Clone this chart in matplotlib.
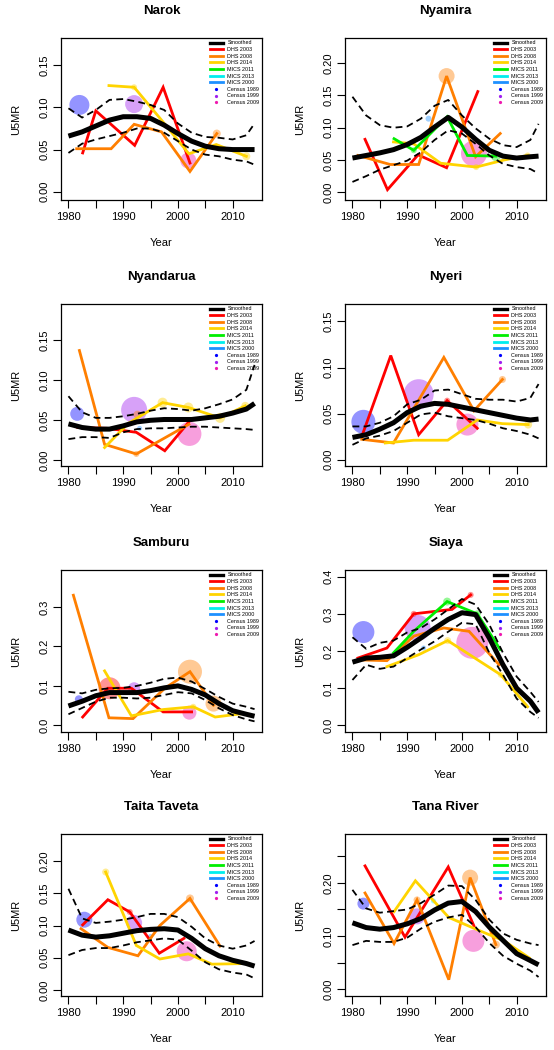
import matplotlib
matplotlib.use('Agg')
import matplotlib.pyplot as plt
from matplotlib.lines import Line2D

plt.rcParams['font.family'] = ['Liberation Sans', 'DejaVu Sans']

##Years at which the smoothed estimate and its bounds were read
years = [1980, 1982.5, 1985, 1987.5, 1990, 1992.5, 1995, 1997.5, 2000, 2002.5,
         2005, 2007.5, 2010, 2012.5, 2014]

##Survey colours
colors = {'DHS 2003': '#FF0000', 'DHS 2008': '#FF7F00', 'DHS 2014': '#FFD400',
          'MICS 2011': '#00EE00', 'MICS 2013': '#00EEEE', 'MICS 2000': '#1E90FF',
          'Census 1989': '#0000FF', 'Census 1999': '#A020F0', 'Census 2009': '#EE1AAF'}

###############################################
# Narok
###############################################
narok_smooth = [0.066, 0.071, 0.078, 0.085, 0.089, 0.089, 0.087, 0.079, 0.069, 0.060, 0.054, 0.051, 0.050, 0.050, 0.050]
narok_upper = [0.099, 0.088, 0.097, 0.109, 0.110, 0.107, 0.103, 0.097, 0.081, 0.070, 0.065, 0.064, 0.062, 0.067, 0.081]
narok_lower = [0.046, 0.057, 0.062, 0.066, 0.070, 0.075, 0.075, 0.070, 0.060, 0.050, 0.044, 0.042, 0.038, 0.036, 0.032]
narok_series = {
    'DHS 2003': ([1982.6, 1985.0, 1992.1, 1997.3, 2002.2], [0.046, 0.096, 0.055, 0.124, 0.034]),
    'DHS 2008': ([1981.5, 1987.8, 1992.0, 1997.0, 2002.2, 2007.1], [0.051, 0.051, 0.080, 0.071, 0.024, 0.069]),
    'DHS 2014': ([1987.4, 1992.0, 1997.0, 2002.0, 2007.0, 2012.5], [0.126, 0.124, 0.085, 0.045, 0.056, 0.042]),
}
# (source, year, value, bubble radius)
narok_points = [('Census 1989', 1982.0, 0.103, 10), ('Census 1999', 1992.0, 0.104, 9),
                ('Census 2009', 2001.9, 0.037, 8), ('DHS 2008', 2007.1, 0.069, 4),
                ('DHS 2014', 2012.5, 0.042, 4), ('DHS 2014', 1992.0, 0.124, 3)]

###############################################
# Nyamira
###############################################
nyamira_smooth = [0.053, 0.057, 0.061, 0.066, 0.074, 0.085, 0.101, 0.116, 0.101, 0.082, 0.065, 0.056, 0.053, 0.055, 0.056]
nyamira_upper = [0.148, 0.119, 0.104, 0.100, 0.102, 0.114, 0.134, 0.143, 0.119, 0.099, 0.083, 0.073, 0.070, 0.081, 0.106]
nyamira_lower = [0.016, 0.025, 0.035, 0.042, 0.049, 0.062, 0.081, 0.096, 0.091, 0.075, 0.057, 0.044, 0.039, 0.036, 0.029]
nyamira_series = {
    'DHS 2003': ([1982.3, 1986.4, 1992.0, 1997.2, 2002.9], [0.082, 0.004, 0.058, 0.038, 0.156]),
    'DHS 2008': ([1981.0, 1986.9, 1992.1, 1997.2, 2002.5, 2007.0], [0.057, 0.043, 0.043, 0.180, 0.055, 0.091]),
    'DHS 2014': ([1987.5, 1991.2, 1996.1, 2002.6, 2007.7, 2012.0], [0.078, 0.075, 0.045, 0.039, 0.050, 0.057]),
    'MICS 2011': ([1987.6, 1991.2, 1997.3, 2001.0, 2006.2], [0.083, 0.065, 0.117, 0.057, 0.056]),
}
nyamira_points = [('Census 2009', 2002.2, 0.060, 13), ('MICS 2000', 1993.9, 0.114, 3),
                  ('DHS 2008', 1997.2, 0.180, 8), ('MICS 2011', 2006.2, 0.056, 5),
                  ('MICS 2011', 1991.2, 0.065, 3), ('DHS 2014', 2012.0, 0.057, 3),
                  ('DHS 2014', 2002.6, 0.039, 3)]

###############################################
# Nyandarua
###############################################
nyandarua_smooth = [0.0455, 0.041, 0.039, 0.039, 0.043, 0.048, 0.050, 0.051, 0.051, 0.051, 0.053, 0.055, 0.059, 0.064, 0.071]
nyandarua_upper = [0.080, 0.060, 0.053, 0.053, 0.055, 0.058, 0.062, 0.065, 0.064, 0.062, 0.065, 0.070, 0.076, 0.088, 0.119]
nyandarua_lower = [0.0265, 0.029, 0.029, 0.028, 0.035, 0.039, 0.040, 0.040, 0.041, 0.042, 0.042, 0.041, 0.040, 0.039, 0.038]
nyandarua_series = {
    'DHS 2003': ([1981.7, 1987.0, 1992.4, 1997.6, 2002.0], [0.041, 0.040, 0.035, 0.012, 0.048]),
    'DHS 2008': ([1982.0, 1986.6, 1992.4, 2002.0], [0.137, 0.020, 0.008, 0.045]),
    'DHS 2014': ([1986.6, 1990.9, 1997.2, 2001.9, 2007.7, 2012.3], [0.016, 0.046, 0.072, 0.066, 0.053, 0.068]),
}
nyandarua_points = [('Census 1989', 1981.6, 0.058, 7), ('Census 1999', 1992.0, 0.063, 13),
                    ('Census 2009', 2002.1, 0.033, 12), ('MICS 2000', 1993.0, 0.040, 2.5),
                    ('DHS 2014', 1997.2, 0.072, 5), ('DHS 2014', 2001.9, 0.066, 5),
                    ('DHS 2014', 2007.7, 0.053, 5), ('DHS 2014', 2012.3, 0.068, 4),
                    ('DHS 2008', 1992.4, 0.008, 3), ('DHS 2008', 1992.6, 0.057, 4)]

###############################################
# Nyeri
###############################################
nyeri_smooth = [0.024, 0.027, 0.033, 0.040, 0.051, 0.058, 0.061, 0.060, 0.057, 0.054, 0.051, 0.048, 0.045, 0.043, 0.044]
nyeri_upper = [0.036, 0.036, 0.040, 0.047, 0.060, 0.065, 0.075, 0.076, 0.071, 0.066, 0.065, 0.065, 0.063, 0.067, 0.082]
nyeri_lower = [0.016, 0.023, 0.026, 0.031, 0.040, 0.049, 0.051, 0.047, 0.045, 0.043, 0.039, 0.034, 0.031, 0.027, 0.023]
nyeri_series = {
    'DHS 2003': ([1981.7, 1987.0, 1992.1, 1997.3, 2002.8], [0.025, 0.113, 0.027, 0.064, 0.034]),
    'DHS 2008': ([1981.7, 1987.5, 1996.7, 2002.2, 2007.4], [0.022, 0.018, 0.111, 0.053, 0.087]),
    'DHS 2014': ([1986.0, 1991.2, 1997.4, 2002.8, 2007.4, 2012.1], [0.018, 0.021, 0.021, 0.043, 0.039, 0.038]),
}
nyeri_points = [('Census 1989', 1982.0, 0.041, 12), ('Census 1999', 1992.1, 0.071, 15),
                ('Census 2009', 2001.0, 0.038, 11), ('DHS 2014', 2012.1, 0.038, 4),
                ('DHS 2008', 2007.4, 0.087, 3.5), ('DHS 2003', 1997.3, 0.064, 3)]

###############################################
# Samburu
###############################################
samburu_smooth = [0.049, 0.061, 0.075, 0.083, 0.083, 0.083, 0.088, 0.095, 0.100, 0.091, 0.077, 0.055, 0.037, 0.028, 0.023]
samburu_upper = [0.085, 0.081, 0.090, 0.094, 0.095, 0.100, 0.108, 0.118, 0.121, 0.111, 0.092, 0.072, 0.055, 0.047, 0.041]
samburu_lower = [0.028, 0.044, 0.060, 0.070, 0.070, 0.068, 0.070, 0.077, 0.084, 0.081, 0.064, 0.043, 0.026, 0.015, 0.010]
samburu_series = {
    'DHS 2003': ([1982.6, 1987.2, 1991.5, 1997.3, 2002.5], [0.021, 0.094, 0.094, 0.034, 0.034]),
    'DHS 2008': ([1980.9, 1987.4, 1991.8, 1997.6, 2002.2, 2006.5], [0.330, 0.019, 0.017, 0.094, 0.136, 0.051]),
    'DHS 2014': ([1986.6, 1991.5, 1997.3, 2002.8, 2006.8, 2012.0], [0.138, 0.024, 0.040, 0.047, 0.021, 0.030]),
}
samburu_points = [('Census 1989', 1981.9, 0.066, 4), ('Census 1999', 1992.0, 0.094, 6),
                  ('Census 2009', 2002.1, 0.032, 7), ('DHS 2003', 1987.5, 0.094, 11),
                  ('DHS 2008', 2002.2, 0.136, 12), ('DHS 2008', 2006.5, 0.055, 8),
                  ('DHS 2014', 2002.8, 0.047, 3)]

###############################################
# Siaya
###############################################
siaya_smooth = [0.170, 0.181, 0.183, 0.187, 0.210, 0.235, 0.261, 0.285, 0.303, 0.298, 0.235, 0.163, 0.100, 0.065, 0.034]
siaya_upper = [0.237, 0.206, 0.222, 0.228, 0.250, 0.262, 0.285, 0.312, 0.340, 0.325, 0.271, 0.195, 0.131, 0.090, 0.063]
siaya_lower = [0.122, 0.163, 0.152, 0.158, 0.181, 0.204, 0.226, 0.252, 0.276, 0.272, 0.195, 0.136, 0.072, 0.036, 0.020]
siaya_series = {
    'DHS 2003': ([1981.0, 1986.3, 1991.2, 1998.2, 2001.6], [0.181, 0.208, 0.300, 0.312, 0.351]),
    'DHS 2008': ([1981.3, 1986.3, 1991.2, 1996.7, 2001.3, 2006.8], [0.176, 0.174, 0.240, 0.262, 0.253, 0.163]),
    'DHS 2014': ([1986.3, 1992.1, 1997.4, 2007.1, 2012.0], [0.158, 0.190, 0.228, 0.136, 0.050]),
    'MICS 2011': ([1987.5, 1991.2, 1997.3, 2002.8, 2007.0], [0.195, 0.253, 0.333, 0.300, 0.204]),
}
siaya_points = [('Census 1989', 1982.0, 0.251, 11), ('Census 1999', 1991.9, 0.262, 13),
                ('Census 2009', 2001.9, 0.222, 16), ('MICS 2000', 1993.0, 0.208, 2.5),
                ('MICS 2011', 1997.3, 0.333, 4), ('MICS 2011', 2002.8, 0.300, 3.5),
                ('DHS 2014', 1997.4, 0.228, 3.5), ('DHS 2003', 2001.6, 0.351, 3),
                ('DHS 2003', 1991.2, 0.300, 3), ('DHS 2014', 2007.1, 0.136, 3)]

###############################################
# Taita Taveta
###############################################
taita_smooth = [0.093, 0.085, 0.082, 0.084, 0.088, 0.092, 0.094, 0.095, 0.093, 0.080, 0.064, 0.053, 0.046, 0.041, 0.037]
taita_upper = [0.157, 0.111, 0.104, 0.106, 0.109, 0.113, 0.118, 0.118, 0.113, 0.098, 0.080, 0.069, 0.064, 0.069, 0.076]
taita_lower = [0.054, 0.062, 0.065, 0.065, 0.069, 0.074, 0.077, 0.080, 0.078, 0.061, 0.043, 0.032, 0.027, 0.024, 0.018]
taita_series = {
    'DHS 2003': ([1982.6, 1987.2, 1991.2, 1996.6, 2001.1], [0.101, 0.140, 0.121, 0.057, 0.080]),
    'DHS 2008': ([1982.3, 1987.2, 1992.7, 1996.7, 2002.2, 2007.7], [0.095, 0.066, 0.053, 0.100, 0.142, 0.068]),
    'DHS 2014': ([1986.8, 1992.4, 1996.7, 2001.9, 2006.2, 2012.5], [0.183, 0.069, 0.048, 0.056, 0.040, 0.041]),
}
taita_points = [('Census 1989', 1982.9, 0.109, 8), ('Census 1999', 1992.0, 0.104, 8),
                ('Census 2009', 2001.6, 0.060, 10), ('MICS 2000', 1995.0, 0.083, 2.5),
                ('DHS 2008', 2002.2, 0.142, 4), ('DHS 2014', 1986.8, 0.183, 3.5),
                ('DHS 2003', 1991.2, 0.121, 3)]

###############################################
# Tana River
###############################################
tana_smooth = [0.125, 0.116, 0.113, 0.116, 0.123, 0.133, 0.149, 0.162, 0.165, 0.146, 0.117, 0.092, 0.067, 0.054, 0.046]
tana_upper = [0.187, 0.152, 0.144, 0.147, 0.150, 0.162, 0.178, 0.195, 0.194, 0.168, 0.131, 0.105, 0.093, 0.086, 0.083]
tana_lower = [0.083, 0.091, 0.089, 0.089, 0.097, 0.114, 0.127, 0.135, 0.140, 0.117, 0.087, 0.063, 0.048, 0.035, 0.023]
tana_series = {
    'DHS 2003': ([1982.3, 1989.6, 1997.5, 2002.2], [0.232, 0.098, 0.230, 0.119]),
    'DHS 2008': ([1982.3, 1987.6, 1991.8, 1997.6, 2001.5, 2006.2], [0.181, 0.086, 0.168, 0.018, 0.210, 0.084]),
    'DHS 2014': ([1987.6, 1991.5, 1997.6, 2002.8, 2007.7, 2012.3], [0.146, 0.204, 0.135, 0.112, 0.091, 0.059]),
}
tana_points = [('Census 1989', 1982.0, 0.161, 6), ('Census 1999', 1991.8, 0.137, 8),
               ('Census 2009', 2002.1, 0.091, 11), ('MICS 2013', 1994.8, 0.166, 2.5),
               ('DHS 2008', 2001.5, 0.210, 8), ('DHS 2008', 2006.2, 0.084, 4),
               ('DHS 2008', 1991.8, 0.168, 3.5)]

# name, data, y limits, y ticks, y tick labels
panels = [
    ('Narok', narok_smooth, narok_upper, narok_lower, narok_series, narok_points,
     (-0.0099, 0.1825), [0, 0.05, 0.10, 0.15], ['0.00', '0.05', '0.10', '0.15']),
    ('Nyamira', nyamira_smooth, nyamira_upper, nyamira_lower, nyamira_series, nyamira_points,
     (-0.012, 0.239), [0, 0.05, 0.10, 0.15, 0.20], ['0.00', '0.05', '0.10', '0.15', '0.20']),
    ('Nyandarua', nyandarua_smooth, nyandarua_upper, nyandarua_lower, nyandarua_series, nyandarua_points,
     (-0.007, 0.195), [0, 0.05, 0.10, 0.15], ['0.00', '0.05', '0.10', '0.15']),
    ('Nyeri', nyeri_smooth, nyeri_upper, nyeri_lower, nyeri_series, nyeri_points,
     (-0.007, 0.169), [0, 0.05, 0.10, 0.15], ['0.00', '0.05', '0.10', '0.15']),
    ('Samburu', samburu_smooth, samburu_upper, samburu_lower, samburu_series, samburu_points,
     (-0.017, 0.394), [0, 0.1, 0.2, 0.3], ['0.0', '0.1', '0.2', '0.3']),
    ('Siaya', siaya_smooth, siaya_upper, siaya_lower, siaya_series, siaya_points,
     (-0.018, 0.418), [0, 0.1, 0.2, 0.3, 0.4], ['0.0', '0.1', '0.2', '0.3', '0.4']),
    ('Taita Taveta', taita_smooth, taita_upper, taita_lower, taita_series, taita_points,
     (-0.0094, 0.242), [0, 0.05, 0.10, 0.15, 0.20], ['0.00', '0.05', '0.10', '0.15', '0.20']),
    ('Tana River', tana_smooth, tana_upper, tana_lower, tana_series, tana_points,
     (-0.0127, 0.292), [0, 0.05, 0.10, 0.15, 0.20, 0.25], ['0.00', '', '0.10', '', '0.20', '']),
]

xticks = [1980, 1985, 1990, 1995, 2000, 2005, 2010]
xticklabels = ['1980', '', '1990', '', '2000', '', '2010']
legend_names = ['Smoothed', 'DHS 2003', 'DHS 2008', 'DHS 2014', 'MICS 2011', 'MICS 2013',
                'MICS 2000', 'Census 1989', 'Census 1999', 'Census 2009']

###################################################
# PLOTTING
###################################################
W, H = 554, 1050
fig = plt.figure(figsize=(W / 100, H / 100), dpi=100)

col_left = [61, 345]
row_top = [38, 304, 570, 834]
box_w, box_h = 201, 162

for i, (name, smooth, upper, lower, series, points, ylim, yticks, ylabels) in enumerate(panels):
    r, c = divmod(i, 2)
    ax = fig.add_axes([col_left[c] / W, 1 - (row_top[r] + box_h) / H, box_w / W, box_h / H])

    for src, yr, val, rad in points:
        ax.scatter([yr], [val], s=(1.44 * rad) ** 2, color=colors[src], alpha=0.42,
                   edgecolors='none', zorder=1)
    for src, (xs, ys) in series.items():
        ax.plot(xs, ys, color=colors[src], lw=2.0, zorder=2, solid_joinstyle='miter')
    ax.plot(years, upper, color='black', lw=1.3, ls=(0, (3.8, 2.4)), zorder=3)
    ax.plot(years, lower, color='black', lw=1.3, ls=(0, (3.8, 2.4)), zorder=3)
    ax.plot(years, smooth, color='black', lw=3.6, zorder=4, solid_capstyle='butt')

    ax.set_xlim(1978.64, 2015.36)
    ax.set_ylim(*ylim)
    ax.set_xticks(xticks)
    ax.set_xticklabels(xticklabels)
    ax.set_yticks(yticks)
    ax.set_yticklabels(ylabels, rotation=90, va='center')
    ax.tick_params(direction='out', length=5.5, width=0.8, labelsize=8, pad=3)
    for sp in ax.spines.values():
        sp.set_linewidth(0.9)

    ax.set_title(name, fontsize=9.5, fontweight='bold', pad=17)
    ax.set_xlabel('Year', fontsize=8, labelpad=12)
    ax.set_ylabel('U5MR', fontsize=8, labelpad=13)

    handles = [Line2D([], [], color='black', lw=2.4)]
    for nm in legend_names[1:7]:
        handles.append(Line2D([], [], color=colors[nm], lw=2.0))
    for nm in legend_names[7:]:
        handles.append(Line2D([], [], color=colors[nm], ls='none', marker='o', markersize=1.3))
    ax.legend(handles, legend_names, loc='upper right', frameon=False, fontsize=3.9,
              handlelength=2.4, handletextpad=0.9, labelspacing=0.3,
              borderaxespad=0.25, borderpad=0.2)

fig.savefig('out.png', dpi=100)
